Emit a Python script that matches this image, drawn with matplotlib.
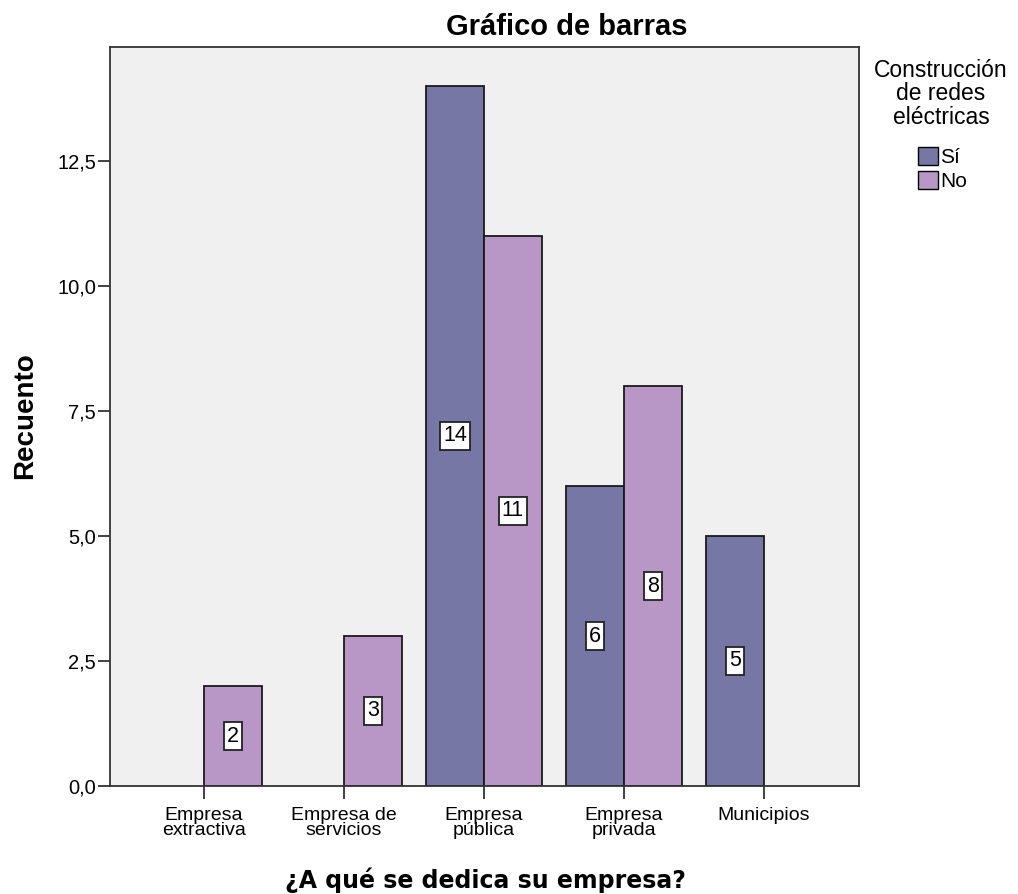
import matplotlib
matplotlib.use('Agg')
import matplotlib.pyplot as plt
import numpy as np
from matplotlib.ticker import FuncFormatter
from matplotlib.patches import Patch

plt.rcParams['font.family'] = ['Liberation Sans', 'DejaVu Sans']

categories = ['Empresa\nextractiva', 'Empresa de\nservicios', 'Empresa\npública',
              'Empresa\nprivada', 'Municipios']
si_values = [0, 0, 14, 6, 5]
no_values = [2, 3, 11, 8, 0]
series_names = ['Sí', 'No']
legend_title = 'Construcción\nde redes\neléctricas'

SI_COLOR = '#7777a6'
NO_COLOR = '#b897c7'
BAR_W = 0.414
W, H = 1018, 894

fig = plt.figure(figsize=(W / 100, H / 100), dpi=100)
ax = fig.add_axes([110 / W, 1 - 786 / H, (859 - 110) / W, (786 - 47) / H])
ax.set_facecolor('#f0f0f0')

x = np.arange(len(categories))
for vals, off, col in [(si_values, -BAR_W / 2, SI_COLOR), (no_values, BAR_W / 2, NO_COLOR)]:
  for xi, v in zip(x, vals):
    if v <= 0:
      continue
    ax.bar(xi + off, v, width=BAR_W, color=col, edgecolor='#1a1a1a', linewidth=1.3, zorder=2)
    ax.text(xi + off, v / 2, str(v), ha='center', va='center', fontsize=15.5, zorder=3,
            bbox=dict(boxstyle='square,pad=0.15', facecolor='white', edgecolor='#222222', linewidth=1.3))

ax.set_xlim(-0.671, 4.679)
ax.set_ylim(0, 14.78)
ax.set_yticks([0, 2.5, 5, 7.5, 10, 12.5])
ax.yaxis.set_major_formatter(FuncFormatter(lambda v, p: ('%.1f' % v).replace('.', ',')))
ax.set_xticks(x)
ax.set_xticklabels(categories, fontsize=14, linespacing=0.88)
ax.tick_params(axis='y', labelsize=14.5, length=9, width=1.3, color='#333333', pad=1)
ax.tick_params(axis='x', length=9, width=1.3, color='#333333', pad=6)
for s in ax.spines.values():
  s.set_linewidth(1.3)
  s.set_color('#333333')

fig.text(567 / W, 1 - 35 / H, 'Gráfico de barras', fontsize=21, fontweight='bold',
         ha='center', va='baseline')
fig.text(25 / W, 1 - 416 / H, 'Recuento', fontsize=20, fontweight='bold', rotation=90,
         ha='center', va='center')
fig.text(485 / W, 1 - 888 / H, '¿A qué se dedica su empresa?', fontsize=17, fontweight='bold',
         family='DejaVu Sans', ha='center', va='baseline')

# legend title drawn on its own so the gap to the entries can be set
fig.text(941 / W, 1 - 59 / H, legend_title, fontsize=16.5, ha='center', va='top',
         multialignment='center', linespacing=1.02)
handles = [Patch(facecolor=SI_COLOR, edgecolor='black'), Patch(facecolor=NO_COLOR, edgecolor='black')]
fig.legend(handles, series_names, loc='upper left', bbox_to_anchor=(918 / W, 1 - 147 / H),
           frameon=False, fontsize=15, handlelength=0.95, handleheight=0.95, handletextpad=0.12,
           labelspacing=0.18, borderpad=0, borderaxespad=0)

fig.savefig('out.png', dpi=100, facecolor='white')
